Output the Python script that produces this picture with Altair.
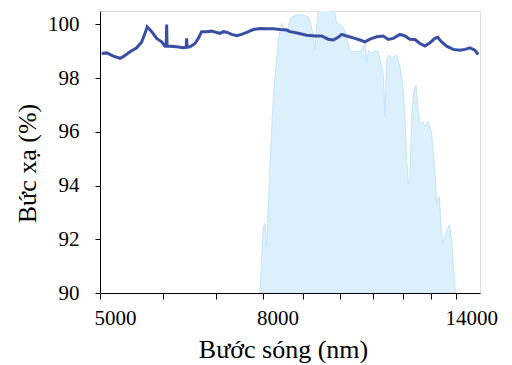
import altair as alt
import pandas as pd

# Reflectance line (wavelength nm, %)
line_x = [5025, 5098, 5196, 5297, 5348, 5453, 5560, 5640, 5695, 5732, 5806, 5890, 5976, 6033,
          6055, 6063, 6070, 6121, 6241, 6361, 6416, 6424, 6432, 6485, 6580, 6643, 6708, 6806,
          6905, 7006, 7073, 7141, 7211, 7316, 7423, 7530, 7640, 7788, 7940, 8095, 8251, 8412,
          8577, 8659, 8870, 9088, 9308, 9490, 9673, 9814, 9956, 10055, 10201, 10398, 10601,
          10756, 10912, 11126, 11340, 11505, 11673, 11901, 12074, 12250, 12428, 12609, 12792,
          12979, 13169, 13272, 13426, 13621, 13883, 14155, 14360, 14570, 14781, 14924]
line_y = [98.92, 98.94, 98.82, 98.74, 98.80, 98.98, 99.13, 99.35, 99.67, 99.91, 99.73, 99.48, 99.35, 99.19,
          99.19, 100.0, 99.19, 99.19, 99.17, 99.13, 99.15, 99.48, 99.15, 99.17, 99.29, 99.48, 99.73, 99.73,
          99.75, 99.70, 99.67, 99.73, 99.71, 99.63, 99.58, 99.63, 99.70, 99.81, 99.85, 99.84, 99.84, 99.81,
          99.79, 99.73, 99.67, 99.60, 99.57, 99.57, 99.45, 99.42, 99.52, 99.63, 99.57, 99.50, 99.42,
          99.35, 99.45, 99.54, 99.57, 99.44, 99.48, 99.63, 99.57, 99.45, 99.44, 99.29, 99.20,
          99.32, 99.48, 99.52, 99.35, 99.19, 99.07, 99.04, 99.07, 99.13, 99.04, 98.88]

# Atmospheric window (shaded band)
band_x = [7940, 8016, 8055, 8095, 8173, 8251, 8316, 8371, 8454, 8500, 8577, 8659, 8702, 8828, 8998,
          9129, 9219, 9262, 9308, 9354, 9397, 9600, 9814, 9911, 10006, 10102, 10201, 10298, 10398,
          10601, 10756, 10809, 10859, 10967, 11071, 11177, 11288, 11340, 11396, 11452, 11538, 11619,
          11696, 11787, 11901, 11994, 12074, 12133, 12189, 12250, 12310, 12392, 12463, 12546, 12609,
          12708, 12792, 12914, 13043, 13169, 13233, 13333, 13426, 13488, 13621, 13723, 13819, 13911, 13979]
band_y = [90.0, 92.48, 92.6, 91.73, 94.71, 97.31, 98.42, 99.42, 100.04, 99.9, 99.67, 100.16, 100.28, 100.35, 100.35,
          100.28, 99.91, 99.54, 99.04, 99.91, 100.7, 100.7, 100.7, 100.04, 100.0, 99.91, 99.54, 99.04, 98.98,
          98.98, 99.29, 98.55, 99.04, 98.92, 99.04, 99.0, 98.42, 98.18, 96.57, 98.67, 98.86, 98.74,
          98.8, 98.86, 98.42, 97.81, 96.57, 94.96, 94.09, 94.3, 96.57, 97.56, 97.74, 96.81, 96.32,
          96.38, 96.19, 96.38, 95.95, 94.46, 93.35, 93.59, 92.23, 91.86, 92.35, 92.54, 91.98, 90.74, 90.0]

x_ticks = [5000, 6000, 7000, 8000, 9000, 10000, 11000, 12000, 13000, 14000]
y_ticks = [90, 92, 94, 96, 98, 100]

line_df = pd.DataFrame({"wl": line_x, "r": line_y})
band_df = pd.DataFrame({"wl": band_x, "r": band_y})

FONT = "Liberation Serif"

x_enc = alt.X(
    "wl:Q",
    scale=alt.Scale(type="log", domain=[5000, 15000], nice=False),
    axis=alt.Axis(
        values=x_ticks,
        labelExpr="indexof([5000, 8000, 14000], datum.value) >= 0 ? format(datum.value, 'd') : ''",
        labelOffset=15, labelPadding=8, tickSize=6, labelFontSize=21, labelFont=FONT,
        labelColor="black", tickColor="black", domainColor="black", grid=False,
        title="Bước sóng (nm)", titleFont=FONT, titleFontSize=26, titleFontWeight="normal",
        titleColor="black", titleX=183, titleY=64, titleAlign="center", titleBaseline="alphabetic",
        labelOverlap=False, labelFlush=False,
    ),
)
y_scale = alt.Scale(domain=[90, 100.5], nice=False, zero=False)
y_axis = alt.Axis(
    values=y_ticks, tickSize=5, labelPadding=16, labelFontSize=21, labelFont=FONT,
    labelColor="black", tickColor="black", domainColor="black", grid=False,
    title="Bức xạ (%)", titleFont=FONT, titleFontSize=26, titleFontWeight="normal",
    titleColor="black", titleAngle=-90, titleX=-73, titleY=152, titleAlign="center",
    titleBaseline="middle",
)

band = alt.Chart(band_df).mark_area(
    color="#dcf0fb", stroke="#c6e4f6", strokeWidth=1, clip=True, interpolate="linear"
).encode(
    x=x_enc,
    y=alt.Y("r:Q", scale=y_scale, axis=y_axis),
    y2=alt.datum(90),
)

line = alt.Chart(line_df).mark_line(color="#3a4ea3", strokeWidth=3, clip=True).encode(
    x=alt.X("wl:Q"),
    y=alt.Y("r:Q"),
)

chart = (band + line).properties(
    width=380, height=282,
    autosize=alt.AutoSizeParams(type="none"),
    padding={"left": 92, "top": 3, "right": 20, "bottom": 70},
).configure_view(stroke="black", strokeWidth=1.5).configure(background="white")

chart.save("out.html", embed_options={"renderer": "svg", "actions": False})
